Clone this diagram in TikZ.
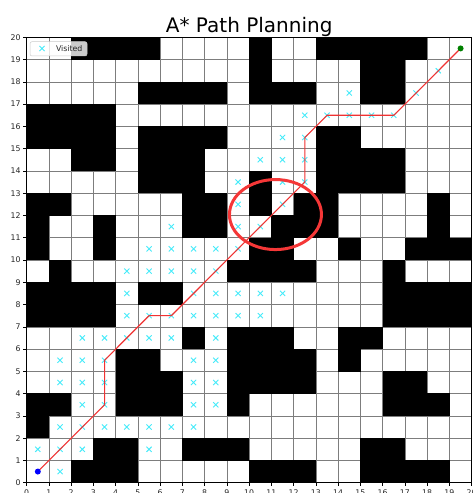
\documentclass[tikz,border=0pt]{standalone}
\usepackage{fontspec}
\setmainfont{DejaVu Sans}
\definecolor{gridc}{RGB}{125,125,125}
\definecolor{visc}{RGB}{70,235,250}
\definecolor{pathc}{RGB}{240,50,50}
\definecolor{ellc}{RGB}{245,55,55}
\definecolor{goalc}{RGB}{0,128,0}
\tikzset{
  gridline/.style={draw=gridc, line width=0.6pt},
  cellfill/.style={fill=black},
  vismark/.style={draw=visc, line width=0.9pt},
  pathline/.style={draw=pathc, line width=1.1pt, line join=round},
  ticklab/.style={font=\fontsize{7.8}{9}\selectfont, inner sep=0pt, text=black!85},
  tickmark/.style={draw=black, line width=0.6pt},
}
\begin{document}
\begin{tikzpicture}[x=1pt,y=1pt]
\useasboundingbox (0,0) rectangle (472,493);
\fill[white] (0,0) rectangle (472,493);
\node[font=\fontsize{20}{24}\selectfont, anchor=base, inner sep=0pt] (title) at (249.2,460.3) {A* Path Planning};
\begin{scope}[shift={(26.7,10.3)}, x=22.25pt, y=22.27pt]
  % grid
  \foreach \i in {0,...,20} {
    \draw[gridline] (\i,0) -- (\i,20);
    \draw[gridline] (0,\i) -- (20,\i);
  }
  % obstacles
  \foreach \r/\cols in {
    19/{2,3,4,5,10,13,14,15,16,17},
    18/{10,15,16},
    17/{5,6,7,8,10,11,12,15,16},
    16/{0,1,2,3},
    15/{0,1,2,3,5,6,7,8,13,14},
    14/{2,3,5,6,7,13,14,15,16},
    13/{5,6,7,10,13,14,15,16},
    12/{0,1,7,8,10,12,13,18},
    11/{0,3,7,8,11,12,13,18},
    10/{0,3,10,11,14,17,18,19},
    9/{1,9,10,11,12,16},
    8/{0,1,2,3,5,6,16,17,18,19},
    7/{0,1,2,3,16,17,18,19},
    6/{7,9,10,11,14,15},
    5/{4,5,9,10,11,12,14},
    4/{4,5,6,9,10,11,12,16,17},
    3/{0,1,4,5,6,9,16,17,18},
    2/{0},
    1/{3,4,7,8,9,15,16},
    0/{2,3,4,10,11,12,15,16,17,18}} {
    \foreach \c in \cols {
      \fill[cellfill] (\c-0.008,\r-0.008) rectangle (\c+1.008,\r+1.008);
    }
  }
  % visited markers
  \foreach \r/\cols in {
    18/{18},
    17/{14,17},
    16/{12,13,14,15,16},
    15/{11,12},
    14/{10,11,12},
    13/{9,11,12},
    12/{9,11},
    11/{6,9,10},
    10/{5,6,7,8,9},
    9/{4,5,6,7,8},
    8/{4,7,8,9,10,11},
    7/{4,5,6,7,8,9,10},
    6/{2,3,4,5,6,8},
    5/{1,2,3,7,8},
    4/{1,2,3,7,8},
    3/{2,3,7,8},
    2/{1,2,3,4,5,6,7},
    1/{0,1,2,5},
    0/{1}} {
    \foreach \c in \cols {
      \draw[vismark] (\c+0.5,\r+0.5) ++(-2.6pt,-2.6pt) -- ++(5.2pt,5.2pt) ++(0,-5.2pt) -- ++(-5.2pt,5.2pt);
    }
  }
  % path
  \coordinate (p0) at (0.5,0.5);
  \coordinate (p1) at (3.5,3.5);
  \coordinate (p2) at (3.5,5.5);
  \coordinate (p3) at (5.5,7.5);
  \coordinate (p4) at (6.5,7.5);
  \coordinate (p5) at (12.5,13.5);
  \coordinate (p6) at (12.5,15.5);
  \coordinate (p7) at (13.5,16.5);
  \coordinate (p8) at (16.5,16.5);
  \coordinate (p9) at (19.5,19.5);
  \draw[pathline] (p0) -- (p1) -- (p2) -- (p3) -- (p4) -- (p5) -- (p6) -- (p7) -- (p8) -- (p9);
  \fill[blue] (p0) circle (3pt);
  \fill[goalc] (p9) circle (3pt);
  % highlight ellipse
  \coordinate (ec) at (11.18,12.04);
  \draw[draw=ellc, line width=3pt] (ec) ellipse [x radius=46pt, y radius=35pt];
  % spines
  \draw[line width=0.8pt] (0,0) rectangle (20,20);
  % ticks
  \foreach \i in {0,...,20} {
    \draw[tickmark] (0,\i) -- ++(-3.5pt,0);
    \node[ticklab, anchor=east] (yl\i) at ([xshift=-6pt]0,\i) {\i};
    \draw[tickmark] (\i,0) -- ++(0,-3.5pt);
    \node[ticklab, anchor=north] (xl\i) at ([yshift=-6.6pt]\i,0) {\i};
  }
\end{scope}
% legend
\draw[draw=black!20, fill=white, fill opacity=0.8, rounded corners=2pt, line width=0.5pt] (30,437) rectangle (87,451.3);
\coordinate (lm) at (42,444.5);
\draw[vismark] (lm) ++(-2.6pt,-2.6pt) -- ++(5.2pt,5.2pt) ++(0,-5.2pt) -- ++(-5.2pt,5.2pt);
\node[ticklab, anchor=base west] (legtext) at (55.8,441.9) {Visited};
\end{tikzpicture}
\end{document}
